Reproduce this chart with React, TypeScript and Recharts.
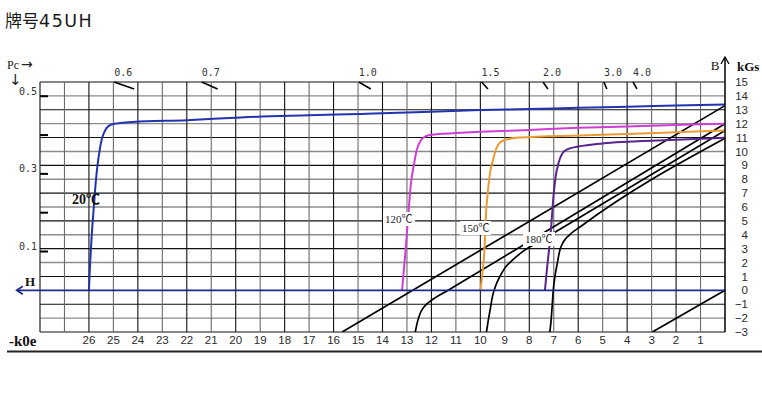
import React from 'react';
import { ComposedChart, Line, XAxis, YAxis, ReferenceLine, CartesianGrid } from 'recharts';

// ---- axis set-up ----
const H_MAX = 28; // kOe (reversed, demagnetising field)
const B_MIN = -3; // kGs
const B_MAX = 15;
const KGS_PER_PC = 27.95; // left Pc scale vs B scale

const hTicks = [1, 2, 3, 4, 5, 6, 7, 8, 9, 10, 11, 12, 13, 14, 15, 16, 17, 18, 19, 20, 21, 22, 23, 24, 25, 26, 27, 28];
const H_LABEL_MAX = 26;
const bTicks = [-3, -2, -1, 0, 1, 2, 3, 4, 5, 6, 7, 8, 9, 10, 11, 12, 13, 14, 15];
const pcTicks = [0.1, 0.2, 0.3, 0.4, 0.5];
const pcLabelled = ['0.1', '0.3', '0.5'];

// permeance-coefficient markers along the top edge
const loadLabels = ['0.6', '0.7', '1.0', '1.5', '2.0', '3.0', '4.0'];
const loadStartH = [24.97, 21.39, 14.97, 9.95, 7.44, 4.95, 3.76];
const loadEndH = [24.15, 20.74, 14.48, 9.69, 7.24, 4.83, 3.6];
const LOAD_START_B = 15;
const LOAD_END_B = 14.5;

type P = { h: number; b: number };

// intrinsic (J-H) curves
const j20: P[] = [
  { h: 26.0, b: 0 }, { h: 25.95, b: 2.0 }, { h: 25.89, b: 3.85 }, { h: 25.8, b: 6.0 },
  { h: 25.72, b: 7.8 }, { h: 25.65, b: 9.0 }, { h: 25.56, b: 10.1 }, { h: 25.48, b: 10.85 },
  { h: 25.38, b: 11.35 }, { h: 25.28, b: 11.68 }, { h: 25.15, b: 11.88 }, { h: 25.0, b: 11.98 },
  { h: 24.6, b: 12.06 }, { h: 24.2, b: 12.12 }, { h: 22.0, b: 12.25 }, { h: 19.8, b: 12.45 },
  { h: 17.0, b: 12.6 }, { h: 14.9, b: 12.7 }, { h: 12.0, b: 12.85 }, { h: 10.0, b: 12.98 },
  { h: 8.0, b: 13.05 }, { h: 6.0, b: 13.15 }, { h: 4.0, b: 13.22 }, { h: 2.0, b: 13.3 }, { h: 0, b: 13.38 },
];
const j120: P[] = [
  { h: 13.2, b: 0 }, { h: 13.1, b: 2.0 }, { h: 13.03, b: 3.5 }, { h: 12.95, b: 5.3 },
  { h: 12.85, b: 7.5 }, { h: 12.72, b: 9.0 }, { h: 12.6, b: 10.1 }, { h: 12.45, b: 10.75 },
  { h: 12.25, b: 11.08 }, { h: 12.0, b: 11.2 }, { h: 11.0, b: 11.32 }, { h: 10.0, b: 11.41 },
  { h: 8.0, b: 11.55 }, { h: 6.0, b: 11.7 }, { h: 4.0, b: 11.8 }, { h: 2.0, b: 11.9 }, { h: 0, b: 12.0 },
];
const j150: P[] = [
  { h: 10.0, b: 0 }, { h: 9.9, b: 1.5 }, { h: 9.83, b: 3.0 }, { h: 9.77, b: 5.5 },
  { h: 9.7, b: 7.0 }, { h: 9.6, b: 8.5 }, { h: 9.48, b: 9.4 }, { h: 9.35, b: 10.2 },
  { h: 9.2, b: 10.65 }, { h: 8.9, b: 10.88 }, { h: 8.4, b: 11.0 }, { h: 6.0, b: 11.15 },
  { h: 4.0, b: 11.25 }, { h: 2.0, b: 11.38 }, { h: 0, b: 11.5 },
];
const j180: P[] = [
  { h: 7.36, b: 0 }, { h: 7.28, b: 1.5 }, { h: 7.2, b: 2.8 }, { h: 7.1, b: 4.7 },
  { h: 7.02, b: 6.6 }, { h: 6.92, b: 8.2 }, { h: 6.8, b: 9.2 }, { h: 6.65, b: 9.85 },
  { h: 6.45, b: 10.15 }, { h: 6.0, b: 10.35 }, { h: 5.0, b: 10.58 }, { h: 4.0, b: 10.7 },
  { h: 2.0, b: 10.85 }, { h: 0, b: 10.98 },
];

// normal (B-H) curves
const b20: P[] = [{ h: 15.65, b: -3 }, { h: 0, b: 13.3 }];
const b120: P[] = [
  { h: 12.66, b: -3.0 }, { h: 12.62, b: -2.65 }, { h: 12.56, b: -2.2 }, { h: 12.47, b: -1.7 },
  { h: 12.35, b: -1.3 }, { h: 12.2, b: -1.0 }, { h: 12.0, b: -0.72 }, { h: 11.3, b: 0.02 }, { h: 0, b: 12.0 },
];
const b150: P[] = [
  { h: 9.75, b: -3.0 }, { h: 9.68, b: -2.2 }, { h: 9.6, b: -1.4 }, { h: 9.5, b: -0.4 },
  { h: 9.38, b: 0.3 }, { h: 9.2, b: 1.0 }, { h: 9.0, b: 1.6 }, { h: 8.7, b: 2.15 },
  { h: 8.3, b: 2.75 }, { h: 7.5, b: 3.6 }, { h: 0, b: 11.5 },
];
const b180: P[] = [
  { h: 7.16, b: -3.0 }, { h: 7.1, b: -2.0 }, { h: 7.06, b: -1.0 }, { h: 7.02, b: 0 },
  { h: 6.95, b: 1.0 }, { h: 6.86, b: 1.9 }, { h: 6.75, b: 2.9 }, { h: 6.6, b: 3.5 },
  { h: 6.35, b: 4.0 }, { h: 5.9, b: 4.6 }, { h: 0, b: 10.95 },
];
const refLine: P[] = [{ h: 2.97, b: -3 }, { h: 0, b: 0 }];

const C20 = '#2233b0';
const C120 = '#d03ed6';
const C150 = '#ec9a34';
const C180 = '#58248e';
const NAVY = '#1e2a8a';

const serif = "'Liberation Serif', 'Times New Roman', 'Noto Sans CJK SC', serif";
const mono = "'DejaVu Sans Mono', monospace";
const sans = "'Liberation Sans', Arial, sans-serif";

const XTick = (p: any) => {
  const v = p.payload.value;
  if (v > H_LABEL_MAX) return <g />;
  return (
    <text x={p.x} y={p.y} dy={11.5} textAnchor="middle" fontSize={11.5} fontFamily={sans} fill="#2a2a2a">
      {v}
    </text>
  );
};

const BTick = (p: any) => {
  const v = p.payload.value;
  return (
    <text x={p.x + 23} y={p.y} dy="0.36em" textAnchor="end" fontSize={11.5} fontFamily={sans} fill="#2a2a2a">
      {v < 0 ? '\u2212' + Math.abs(v) : v}
    </text>
  );
};

const PcTick = (p: any) => {
  const label = Number(p.payload.value).toFixed(1);
  return (
    <g>
      <line x1={p.x} x2={p.x + 8} y1={p.y} y2={p.y} stroke="#000" strokeWidth={2} />
      {pcLabelled.includes(label) && (
        <text x={p.x - 3} y={p.y - 5} dy="0.35em" textAnchor="end" fontSize={10} fontFamily={mono} fill="#333">
          {label}
        </text>
      )}
    </g>
  );
};

const hGrid = (p: any) => {
  const b = Math.round(B_MAX - ((p.y1 - p.y) / p.height) * (B_MAX - B_MIN));
  if (b === 0) return <g key={p.key} />;
  const dark = Math.abs(b) % 2 === 1;
  return (
    <line key={p.key} x1={p.x1} x2={p.x2} y1={p.y1} y2={p.y2}
      stroke={dark ? '#111' : '#8c8c8c'} strokeWidth={dark ? 1.1 : 1.4} />
  );
};

const vGrid = (p: any) => {
  const h = Math.round(H_MAX * (1 - (p.x1 - p.x) / p.width));
  if (h === 0) return <g key={p.key} />;
  const dark = h % 2 === 0;
  return (
    <line key={p.key} x1={p.x1} x2={p.x2} y1={p.y1} y2={p.y2}
      stroke={dark ? '#111' : '#6a6a6a'} strokeWidth={1.1} />
  );
};

const hArrow = (p: any) => {
  const left = Math.min(p.x1, p.x2);
  const right = Math.max(p.x1, p.x2);
  return (
    <g>
      <line x1={left} x2={right} y1={p.y1} y2={p.y2} stroke={NAVY} strokeWidth={1.6} />
      <polyline points={`${left + 6},${p.y1 - 4} ${left},${p.y1} ${left + 6},${p.y1 + 4}`} fill="none" stroke={NAVY} strokeWidth={1.8} />
    </g>
  );
};

const bArrow = (p: any) => {
  const top = Math.min(p.y1, p.y2);
  const bottom = Math.max(p.y1, p.y2);
  return (
    <g>
      <line x1={p.x1} x2={p.x2} y1={top} y2={bottom} stroke="#000" strokeWidth={1.5} />
      <polyline points={`${p.x1 - 4},${top + 7} ${p.x1},${top} ${p.x1 + 4},${top + 7}`} fill="none" stroke="#000" strokeWidth={1.3} />
    </g>
  );
};

const loadMark = (label: string) => (p: any) => (
  <g>
    <line x1={p.x1} y1={p.y1} x2={p.x2} y2={p.y2} stroke="#000" strokeWidth={1.6} />
    <text x={p.x1} y={p.y1 - 6} fontSize={10} fontFamily={mono} fill="#333">{label}</text>
  </g>
);

const tempLabel = (txt: string, x: number, y: number, w: number) => (
  <g>
    <rect x={x - 2} y={y - 7} width={w + 4} height={14} fill="#fff" />
    <text x={x} y={y} dy="0.35em" fontSize={11} fontFamily={serif} fill="#222">{txt}</text>
  </g>
);

export default function App() {
  const lineCommon = {
    xAxisId: 'h', yAxisId: 'b', dataKey: 'b', dot: false, activeDot: false,
    isAnimationActive: false, type: 'monotone' as const,
  };
  return (
    <div style={{ position: 'absolute', left: 0, top: 0, width: 762, height: 399, background: '#fff' }}>
      <ComposedChart width={762} height={399} margin={{ top: 82, right: 0, bottom: 47, left: 20 }}>
        <XAxis xAxisId="h" type="number" dataKey="h" domain={[0, H_MAX]} reversed ticks={hTicks} interval={0}
          tick={XTick} tickLine={false} axisLine={false} tickSize={0} tickMargin={0} height={20} allowDataOverflow />
        <YAxis yAxisId="b" orientation="right" type="number" domain={[B_MIN, B_MAX]} ticks={bTicks} interval={0}
          tick={BTick} tickLine={false} axisLine={false} tickSize={0} tickMargin={0} width={37} allowDataOverflow />
        <YAxis yAxisId="pc" orientation="left" type="number" domain={[B_MIN / KGS_PER_PC, B_MAX / KGS_PER_PC]}
          ticks={pcTicks} interval={0} tick={PcTick} tickLine={false} axisLine={false} tickSize={0} tickMargin={0}
          width={20} allowDataOverflow />
        <CartesianGrid xAxisId="h" yAxisId="b" horizontal={hGrid} vertical={vGrid} />

        {loadLabels.map((lab, i) => (
          <ReferenceLine key={lab} xAxisId="h" yAxisId="b" ifOverflow="visible"
            segment={[{ x: loadStartH[i], y: LOAD_START_B }, { x: loadEndH[i], y: LOAD_END_B }]}
            shape={loadMark(lab)} />
        ))}

        <Line {...lineCommon} data={b20} type="linear" stroke="#000" strokeWidth={1.7} />
        <Line {...lineCommon} data={b120} stroke="#000" strokeWidth={1.7} />
        <Line {...lineCommon} data={b150} stroke="#000" strokeWidth={1.7} />
        <Line {...lineCommon} data={b180} stroke="#000" strokeWidth={1.7} />
        <Line {...lineCommon} data={refLine} type="linear" stroke="#000" strokeWidth={1.7} />

        <Line {...lineCommon} data={j20} stroke={C20} strokeWidth={2} />
        <Line {...lineCommon} data={j120} stroke={C120} strokeWidth={2} />
        <Line {...lineCommon} data={j150} stroke={C150} strokeWidth={2} />
        <Line {...lineCommon} data={j180} stroke={C180} strokeWidth={2} />

        <ReferenceLine xAxisId="h" yAxisId="b" ifOverflow="visible"
          segment={[{ x: 0, y: 0 }, { x: 28.95, y: 0 }]} shape={hArrow} />
        <ReferenceLine xAxisId="h" yAxisId="b" ifOverflow="visible"
          segment={[{ x: 0, y: B_MIN }, { x: 0, y: 16.8 }]} shape={bArrow} />
      </ComposedChart>

      <svg width={762} height={399} style={{ position: 'absolute', left: 0, top: 0, pointerEvents: 'none' }}>
        <text x={5} y={27} fontSize={17} fontFamily="'Noto Sans CJK SC', sans-serif" fill="#1a1a1a">
          牌号<tspan fontFamily="'DejaVu Sans', sans-serif" fontSize={17.5} letterSpacing={1.5}>45UH</tspan>
        </text>
        <text x={7} y={69} fontSize={12} fontFamily={serif} fill="#222">
          Pc<tspan fontFamily="'DejaVu Sans', sans-serif" fontSize={14} dx={2}>→</tspan>
        </text>
        <text x={9} y={85} fontSize={15} fontFamily="'DejaVu Sans', sans-serif" fill="#222">↓</text>
        <text x={30} y={281} dy="0.35em" textAnchor="middle" fontSize={13} fontWeight="bold" fontFamily={serif} fill="#111">H</text>
        <text x={9} y={341} dy="0.35em" fontSize={15} fontWeight="bold" fontFamily={serif} fill="#111">-k0e</text>
        <text x={715} y={65} dy="0.35em" textAnchor="middle" fontSize={13} fontFamily={serif} fill="#111">B</text>
        <text x={737} y={66} dy="0.35em" fontSize={13} fontWeight="bold" fontFamily={serif} fill="#111">kGs</text>
        <text x={72} y={199} dy="0.35em" fontSize={14} fontWeight="bold" fontFamily={serif} fill="#111">20℃</text>
        {tempLabel('120℃', 385, 219, 28)}
        {tempLabel('150℃', 462, 228, 27)}
        {tempLabel('180℃', 525, 239, 28)}
        <line x1={7} x2={762} y1={351.5} y2={351.5} stroke="#222" strokeWidth={2.2} />
      </svg>
    </div>
  );
}
